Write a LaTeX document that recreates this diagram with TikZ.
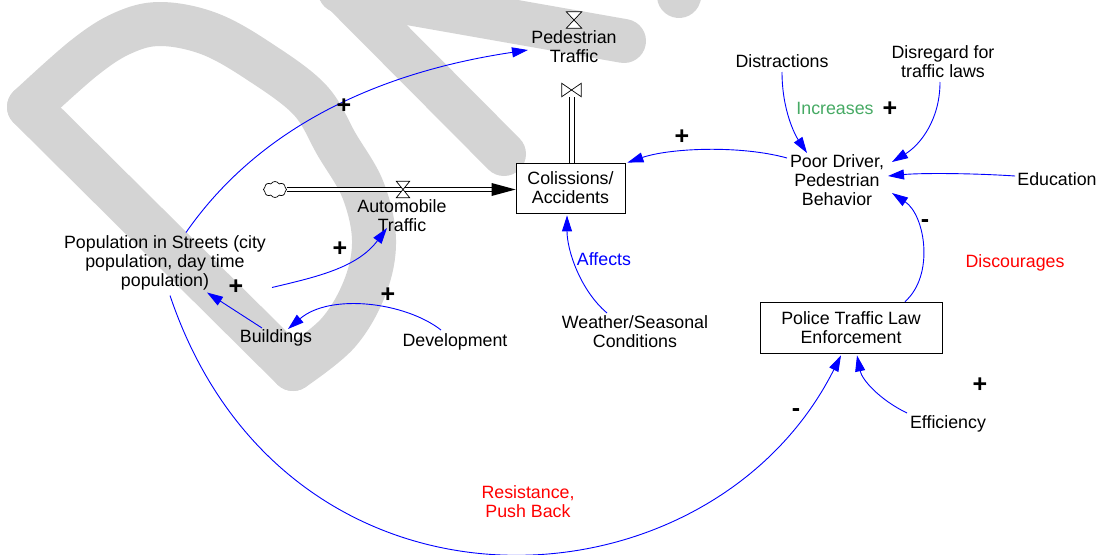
\documentclass[tikz,border=0pt]{standalone}
\usepackage{fontspec}
\setmainfont{Liberation Sans}
\usetikzlibrary{arrows.meta,shapes.symbols,calc}
\definecolor{wm}{RGB}{212,212,212}
\definecolor{lnk}{RGB}{0,0,255}
\definecolor{grn}{RGB}{70,170,100}
\definecolor{rd}{RGB}{255,0,0}
\begin{document}
\begin{tikzpicture}[x=1pt,y=-1pt,
  every node/.style={font=\fontsize{17.8}{19}\selectfont, inner sep=0pt, align=center},
  stock/.style={draw=black, line width=0.8pt, fill=white, minimum width=109pt, minimum height=50pt},
  link/.style={draw=lnk, line width=0.9pt, -{Triangle[length=16pt,width=10pt]}},
  pol/.style={font=\fontsize{25}{25}\selectfont\bfseries},
  wmark/.style={draw=wm, line width=44pt, line cap=round, line join=round},
  pipe/.style={draw=black, line width=0.9pt, double=white, double distance=3.2pt},
  pipeline/.style={draw=black, line width=0.9pt},
  valve/.style={draw=black, fill=white, line width=0.7pt}
]
\fill[white] (0,0) rectangle (1099,554);
\useasboundingbox (0,0) rectangle (1099,554);
% watermark
\begin{scope}
\clip (0,0) rectangle (1099,554);
\draw[wmark] (29,107) -- (293,369);
\draw[wmark] plot[smooth, tension=0.6] coordinates {(29,107) (84,58) (123,33) (161,24) (210,34) (260,62) (310,100) (337,145) (363,190) (374,240) (365,287) (338,333) (293,369)};
\draw[wmark] (330,-21) -- (504,154);
\draw[wmark] (340,-9) -- (624,41);
\draw[wmark] (690,-40) -- (679,-4);
\end{scope}

% nodes
\node (ped) at (574,46.5) {Pedestrian\\Traffic};
\node[stock] (coll) at (570.5,188) {Colissions/\\Accidents};
\node (auto) at (402,215.5) {Automobile\\Traffic};
\node (pop) at (165,262.5) {Population in Streets (city\\population, day time\\population)};
\node (bld) at (276,338) {Buildings};
\node (dev) at (455,342) {Development};
\node (wea) at (635,332) {Weather/Seasonal\\Conditions};
\node[stock, minimum width=182pt, minimum height=51pt] (pol) at (851,327.5) {Police Traffic Law\\Enforcement};
\node (eff) at (948,424) {Efficiency};
\node (poor) at (837,180) {Poor Driver,\\Pedestrian\\Behavior};
\node (edu) at (1057,179) {Education};
\node (dis) at (782,61) {Distractions};
\node (disr) at (943,61.5) {Disregard for\\traffic laws};

% link labels
\node[text=lnk] (laff) at (604,259) {Affects};
\node[text=grn] (linc) at (835,108) {Increases};
\node[text=rd] (ldisc) at (1015,263) {Discourages};
\node[text=rd] (lres) at (528,501.5) {Resistance,\\Push Back};

% flows
\node[cloud, draw, cloud puffs=8, cloud puff arc=120, aspect=1.4, minimum width=23pt, minimum height=16pt, inner sep=0pt, line width=0.7pt] (cld) at (275,189.5) {};
\node[inner sep=0pt, minimum width=13pt, minimum height=16pt] (v1) at (403,189.5) {};
\node[inner sep=0pt, minimum width=19pt, minimum height=13pt] (v2) at (571.5,90) {};
\node[inner sep=0pt, minimum width=15pt, minimum height=16pt] (v3) at (574,20) {};

\draw[pipe, shorten >=23pt] (cld.east) -- (cld.east -| coll.west);
\fill[black] (cld.east -| coll.west) -- ++(-24,-6.5) -- ++(0,13) -- cycle;
\draw[pipeline] ($(v2 |- coll.north)+(-2.5,0)$) -- ($(v2.south)+(-2.5,0)$);
\draw[pipeline] ($(v2 |- coll.north)+(2.5,0)$) -- ($(v2.south)+(2.5,0)$);

\draw[valve] (v1.north west) -- (v1.north east) -- (v1.south west) -- (v1.south east) -- cycle;
\draw[valve] (v2.north west) -- (v2.south west) -- (v2.north east) -- (v2.south east) -- cycle;
\draw[valve] (v3.north west) -- (v3.north east) -- (v3.south west) -- (v3.south east) -- cycle;

% links
\draw[link] ($(pop)+(21,-30)$) .. controls (260,126) and (380,72) .. ($(ped)+(-46,3.5)$);
\draw[link] ($(pop)+(107,25)$) .. controls (316,277) and (357,268) .. ($(auto)+(-15,12.5)$);
\draw[link] ($(bld)+(-14,-10)$) -- ($(pop)+(42,30)$);
\draw[link] ($(dev)+(-14,-12)$) .. controls (405,302) and (330,293) .. ($(bld)+(12,-9)$);
\draw[link] ($(wea)+(-28,-19)$) .. controls (580,290) and (567,250) .. ($(coll.south)+(-3.5,2)$);
\draw[link] ($(poor)+(-50,-22)$) .. controls (740,145) and (670,148) .. ($(coll.north east)+(2,0)$);
\draw[link] ($(dis)+(0,11)$) .. controls (782,110) and (795,135) .. ($(poor)+(-30,-27)$);
\draw[link] ($(disr)+(-3,20.5)$) .. controls (940,120) and (920,145) .. ($(poor)+(55,-18)$);
\draw[link] ($(edu)+(-42,-3)$) .. controls (970,173) and (920,173) .. ($(poor)+(51,-4)$);
\draw[link] ($(pol.north)+(54,0)$) .. controls (935,275) and (925,215) .. ($(poor)+(55,13)$);
\draw[link] ($(eff)+(-41,-11)$) .. controls (880,400) and (862,380) .. ($(pol.south)+(6,2)$);
\draw[link] ($(pop)+(5,33)$) .. controls (286,640) and (709,618) .. ($(pol.south)+(-10,2)$);

% polarities
\node[pol] (s1) at (344,106) {+};
\node[pol] (s2) at (340,249) {+};
\node[pol] (s3) at (236,287) {+};
\node[pol] (s4) at (388,295) {+};
\node[pol] (s5) at (682,137) {+};
\node[pol] (s6) at (890,109) {+};
\node[pol] (s7) at (980,385) {+};
\node[pol] (s8) at (925,224) {-};
\node[pol] (s9) at (796,413) {-};
\end{tikzpicture}
\end{document}
